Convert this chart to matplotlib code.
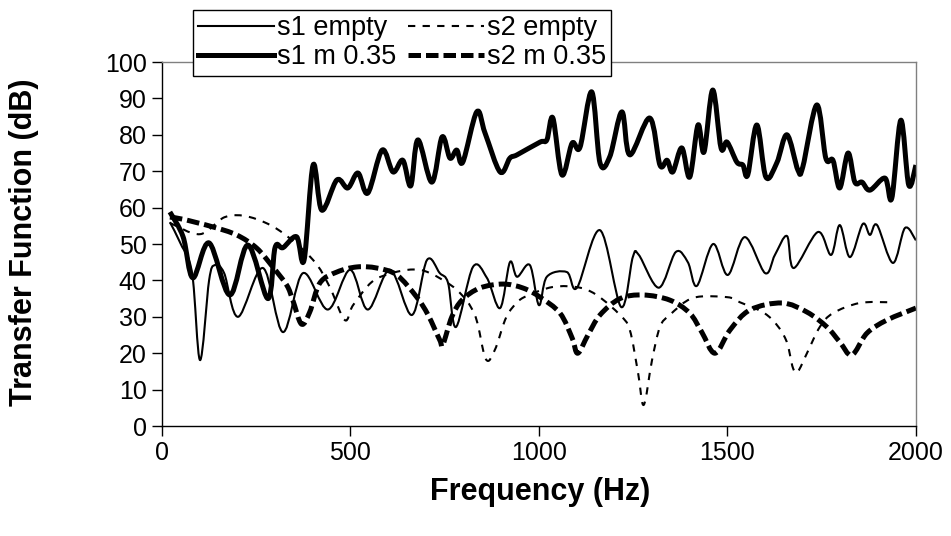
import numpy as np
import matplotlib.pyplot as plt
from matplotlib.path import Path
from matplotlib.patches import PathPatch
from matplotlib.lines import Line2D

plt.rcParams['font.family'] = ['Liberation Sans', 'DejaVu Sans']

# s1 empty (thin solid)
s1e_x = [21, 50, 80, 101, 125, 140, 165, 202, 268, 321, 374, 440, 499, 546, 605, 663, 703, 737, 759,
         780, 825, 862, 897, 923, 942, 976, 1000, 1021, 1074, 1101, 1162, 1218, 1249, 1265, 1318, 1363,
         1395, 1419, 1462, 1501, 1546, 1600, 1626, 1658, 1676, 1740, 1775, 1798, 1825, 1859, 1878, 1897,
         1939, 1971, 2000]
s1e_y = [56, 50, 42, 18.1, 40, 44.2, 42, 30, 43.4, 25.8, 42, 32, 42.9, 32, 42.9, 30.5, 45.6, 42, 39.3,
         27.2, 43.7, 40.7, 32.4, 45, 41, 44.2, 33.2, 41, 42.3, 38, 53.8, 32.7, 46.4, 47, 38, 47.8,
         45, 38.5, 50, 41.5, 51.9, 42, 47, 52.2, 43.4, 53.3, 47, 55.2, 46.4, 55.5, 52.5, 55.2,
         44.8, 54.4, 51]

# s2 empty (thin dotted)
s2e_x = [21, 101, 167, 233, 313, 401, 445, 485, 507, 557, 610, 666, 711, 782, 830, 859, 883, 910, 931,
         961, 1037, 1109, 1157, 1215, 1241, 1263, 1278, 1300, 1321, 1347, 1409, 1499, 1533, 1605, 1653,
         1674, 1687, 1711, 1745, 1780, 1851, 1930]
s2e_y = [55.8, 52.7, 57.4, 57.4, 53.6, 45.6, 38.2, 29.1, 33.2, 39.6, 42, 43, 42, 37.4, 30.5, 18.4, 20.9,
         29.1, 32.7, 35.4, 38.2, 38, 35.7, 30.5, 26.4, 14.6, 5.8, 18.1, 27.2, 30.5, 35.2, 35.4, 34,
         30.5, 24.2, 15.9, 15, 20, 27.2, 31, 33.8, 34]

# s1 m 0.35 (thick solid)
s1m_x = [21, 56, 82, 125, 180, 228, 281, 300, 321, 357, 377, 401, 424, 464, 493, 520, 546, 584, 613,
         639, 660, 679, 716, 743, 764, 782, 798, 835, 857, 897, 923, 942, 1003, 1021, 1037, 1061, 1088,
         1109, 1140, 1162, 1188, 1220, 1241, 1294, 1321, 1340, 1355, 1379, 1400, 1422, 1438, 1461,
         1483, 1499, 1525, 1541, 1554, 1578, 1602, 1631, 1658, 1687, 1700, 1737, 1761, 1780, 1798,
         1820, 1838, 1857, 1878, 1918, 1936, 1960, 1981, 2000]
s1m_y = [58.8, 52, 40.7, 50.3, 36, 49.7, 35, 49, 49, 52, 45.6, 71.7, 59.3, 67.6, 65.4, 69.5, 64, 75.8,
         69.8, 73, 66, 78.6, 67, 79.4, 73.6, 75.8, 72.5, 86.3, 80.5, 69.8, 73.6, 74.5, 78, 78.6, 84.6,
         69, 77.7, 76.6, 91.8, 72.3, 74, 86.3, 74.5, 84.6, 71.7, 73, 69.8, 76.4, 68.4, 82.7, 75.3, 92.3,
         76.4, 78, 72.5, 71.7, 69, 82.7, 68.4, 72.3, 80, 70.3, 71.2, 88.2, 73.6, 73, 65.4, 75, 67, 67,
         64.8, 68.1, 62.6, 84, 66.2, 71.7]

# s2 m 0.35 (thick dashed)
s2m_x = [21, 56, 135, 198, 251, 294, 331, 347, 370, 392, 419, 464, 517, 570, 623, 676, 706, 737, 745,
         769, 796, 843, 905, 958, 1003, 1056, 1088, 1103, 1130, 1162, 1215, 1276, 1347, 1400, 1432,
         1467, 1507, 1560, 1645, 1711, 1764, 1798, 1830, 1870, 1923, 2000]
s2m_y = [57.4, 56.8, 54.7, 52.5, 48.9, 43.7, 38.7, 34.6, 28, 31.3, 39.3, 42.3, 43.7, 43.4, 41.5, 35.4,
         30.5, 23.6, 22.3, 30, 34.6, 37.9, 39, 37.9, 35.4, 31, 24.2, 20, 25, 30.5, 35, 36, 34.6, 31,
         25.8, 20, 26.4, 31.9, 33.8, 31.3, 27.2, 23.1, 19.5, 25.5, 29.1, 32.4]

labels = ['s1 empty', 's1 m 0.35', 's2 empty', 's2 m 0.35']


def smooth_path(xs, ys):
    # bezier through the points, like excel's smoothed line
    pts = np.column_stack([xs, ys]).astype(float)
    n = len(pts)
    verts = [pts[0]]
    codes = [Path.MOVETO]
    for i in range(n - 1):
        p0 = pts[max(i - 1, 0)]
        p1 = pts[i]
        p2 = pts[i + 1]
        p3 = pts[min(i + 2, n - 1)]
        verts += [p1 + (p2 - p0) / 6, p2 - (p3 - p1) / 6, p2]
        codes += [Path.CURVE4] * 3
    return Path(verts, codes)


fig = plt.figure(figsize=(9.51, 5.36), dpi=100)
ax = fig.add_axes([0.1703, 0.2052, 0.7928, 0.6791])

styles = [
    (s1e_x, s1e_y, dict(lw=1.5, ls='-')),
    (s1m_x, s1m_y, dict(lw=3.6, ls='-')),
    (s2e_x, s2e_y, dict(lw=1.5, ls=(0, (3.5, 3.5)))),
    (s2m_x, s2m_y, dict(lw=3.6, ls=(0, (2.5, 1.0)))),
]
handles = []
for xs, ys, st in styles:
    patch = PathPatch(smooth_path(xs, ys), fill=False, edgecolor='black',
                      linewidth=st['lw'], linestyle=st['ls'], joinstyle='round', capstyle='butt')
    ax.add_patch(patch)
    handles.append(Line2D([], [], color='black', lw=st['lw'], ls=st['ls']))

ax.set_xlim(0, 2000)
ax.set_ylim(0, 100)
ax.set_xticks(range(0, 2001, 500))
ax.set_yticks(range(0, 101, 10))
ax.tick_params(direction='out', length=7, width=1, labelsize=18, pad=4, color='black')
for side in ['top', 'right']:
    ax.spines[side].set_color('#808080')
for side in ['left', 'bottom']:
    ax.spines[side].set_color('black')
for s in ax.spines.values():
    s.set_linewidth(1)

fig.text(540 / 951, 1 - 492 / 536, 'Frequency (Hz)', fontsize=22, fontweight='bold',
         ha='center', va='center')
fig.text(24 / 951, 1 - 242 / 536, 'Transfer Function (dB)', fontsize=22, fontweight='bold',
         ha='center', va='center', rotation=90)

leg = fig.legend(handles, labels, ncol=2, loc='upper left',
                 bbox_to_anchor=(193 / 951, 1 - 10 / 536), bbox_transform=fig.transFigure,
                 borderaxespad=0, fancybox=False, edgecolor='black', framealpha=1,
                 fontsize=19.5, handlelength=2.8, handletextpad=0.1, columnspacing=0.45,
                 labelspacing=0.1, borderpad=0.2)
leg.get_frame().set_linewidth(1)

fig.savefig('out.png', dpi=100)
